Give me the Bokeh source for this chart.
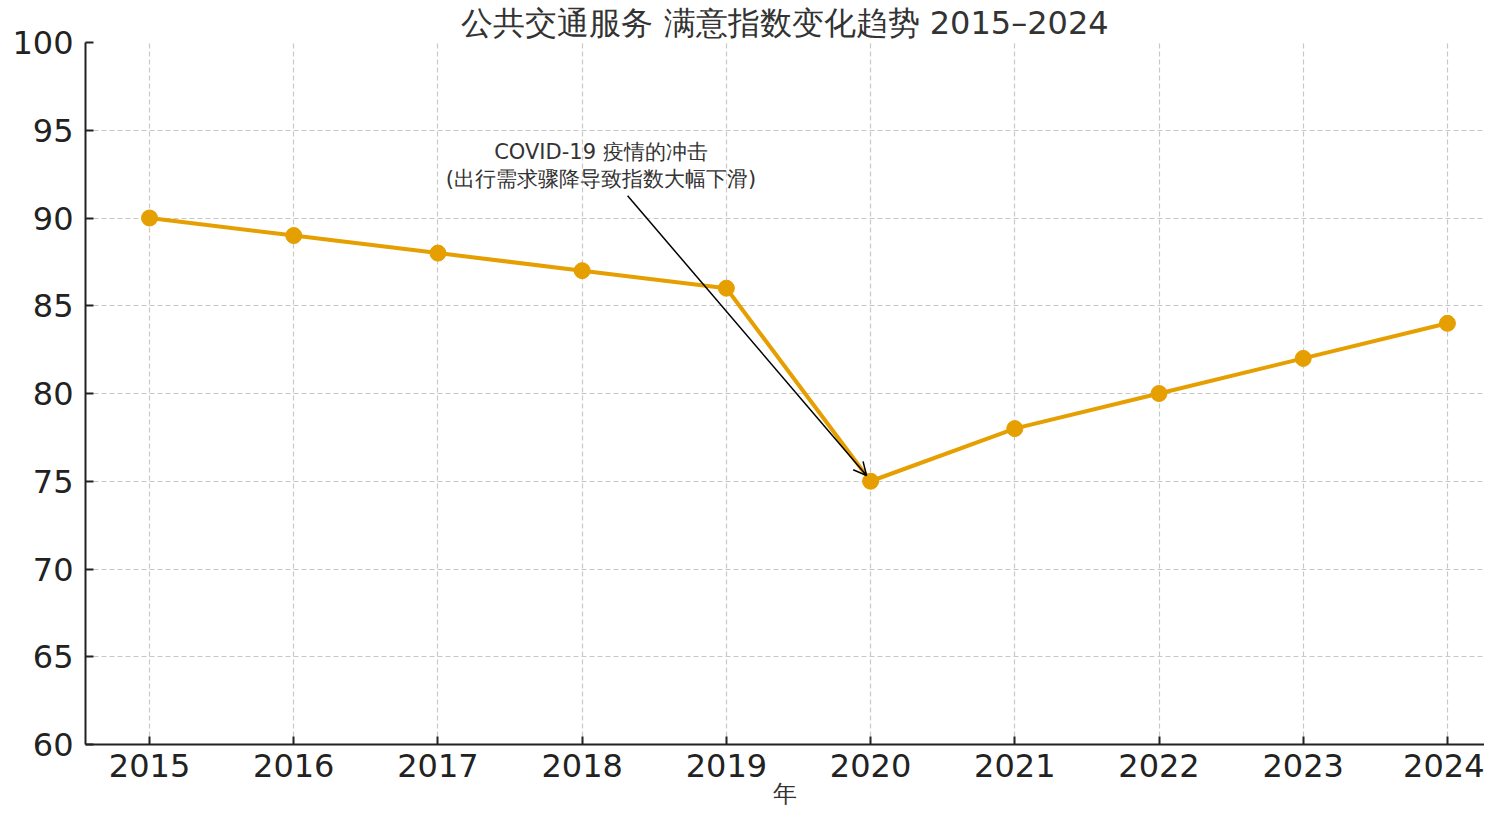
from bokeh.plotting import figure
from bokeh.models import Range1d, Label, Arrow, OpenHead, FixedTicker
from bokeh.embed import file_html
from bokeh.resources import INLINE

# ---- data ----
years = [2015, 2016, 2017, 2018, 2019, 2020, 2021, 2022, 2023, 2024]
index_values = [90, 89, 88, 87, 86, 75, 78, 80, 82, 84]
y_ticks = [60, 65, 70, 75, 80, 85, 90, 95, 100]
title_text = "公共交通服务 满意指数变化趋势 2015–2024"
x_label_text = "年"
note_text = "COVID-19 疫情的冲击\n(出行需求骤降导致指数大幅下滑)"
note_pos = (2018.13, 93.0)
arrow_from = (2018.315, 91.27)
arrow_to = (2019.972, 75.33)

FONT = "DejaVu Sans"
ORANGE = "#E69F00"
AXIS_C = "#222222"

p = figure(width=1484, height=810, output_backend="svg", toolbar_location=None,
           x_range=Range1d(2014.556, 2024.257), y_range=Range1d(60, 100),
           min_border_left=85, min_border_right=0, min_border_top=0, min_border_bottom=0)
p.outline_line_color = None
p.background_fill_color = "white"

p.title.text = title_text
p.title.align = "center"
p.title.standoff = 2
p.title.text_font = FONT
p.title.text_font_size = "32px"
p.title.text_font_style = "normal"
p.title.text_color = "#333333"

for ax in (p.xaxis[0], p.yaxis[0]):
    ax.axis_line_color = AXIS_C
    ax.axis_line_width = 2
    ax.major_tick_in = 8
    ax.major_tick_out = 0
    ax.major_tick_line_color = AXIS_C
    ax.major_tick_line_width = 2
    ax.minor_tick_line_color = None
    ax.major_label_text_font = FONT
    ax.major_label_text_font_size = "32px"
    ax.major_label_text_color = AXIS_C

p.xaxis[0].ticker = FixedTicker(ticks=years)
p.yaxis[0].ticker = FixedTicker(ticks=y_ticks)
p.xaxis[0].major_label_standoff = 9
p.yaxis[0].major_label_standoff = 12
p.xaxis[0].axis_label = x_label_text
p.xaxis[0].axis_label_text_font = FONT
p.xaxis[0].axis_label_text_font_size = "24px"
p.xaxis[0].axis_label_text_font_style = "normal"
p.xaxis[0].axis_label_text_color = "#333333"
p.xaxis[0].axis_label_standoff = 0

for g in (p.xgrid[0], p.ygrid[0]):
    g.grid_line_color = "#c8c8c8"
    g.grid_line_dash = "5 3"
    g.grid_line_width = 1.2

p.line(years, index_values, line_color=ORANGE, line_width=4)
p.scatter(years, index_values, size=16, fill_color=ORANGE, line_color=ORANGE)

p.add_layout(Arrow(end=OpenHead(size=13, line_width=1.5, line_color="black"),
                   x_start=arrow_from[0], y_start=arrow_from[1],
                   x_end=arrow_to[0], y_end=arrow_to[1],
                   line_color="black", line_width=1.5))

p.add_layout(Label(x=note_pos[0], y=note_pos[1], text=note_text, text_align="center",
                   text_baseline="middle", text_font=FONT, text_font_size="21px",
                   text_color="#333333", text_line_height=1.15))

open("out.html", "w").write(file_html(p, INLINE))
